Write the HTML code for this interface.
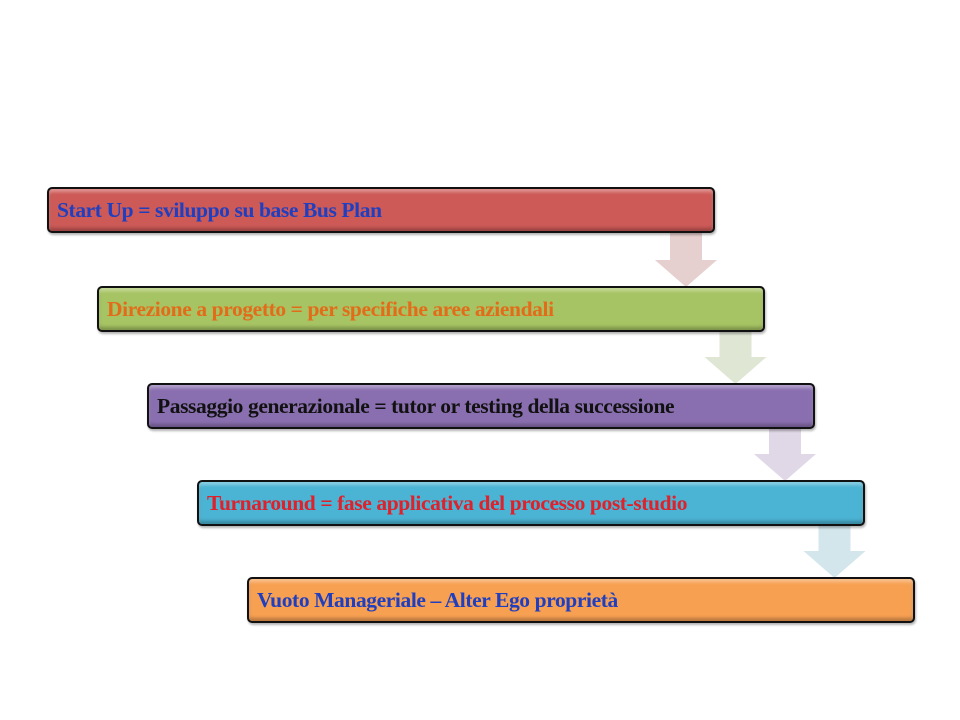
<!DOCTYPE html>
<html><head><meta charset="utf-8"><style>
body{margin:0;width:960px;height:720px;background:#fff;position:relative;overflow:hidden;font-family:"Liberation Serif",serif;}
.b{position:absolute;width:656px;height:42px;border:2px solid #111;border-radius:5px;box-sizing:content-box;box-shadow:inset 0 3px 3px rgba(255,255,255,.35),inset 0 -3px 3px rgba(0,0,0,.25),1px 2px 2px rgba(0,0,0,.3);font-weight:bold;font-size:21.5px;line-height:42px;padding-left:8px;letter-spacing:-0.4px;white-space:nowrap;overflow:hidden}
svg{position:absolute;left:0;top:0}
</style></head><body>
<svg width="960" height="720">
<polygon points="670,233 702,233 702,260 717,260 686,287 655,260 670,260" fill="#e6cfcf"/>
<polygon points="719.5,330 751.5,330 751.5,357 766.5,357 735.5,384 704.5,357 719.5,357" fill="#dfe6d4"/>
<polygon points="769,427 801,427 801,454 816,454 785,481 754,454 769,454" fill="#e0d8e6"/>
<polygon points="818.5,524 850.5,524 850.5,551 865.5,551 834.5,578 803.5,551 818.5,551" fill="#d3e6ec"/>
</svg>
<div class="b" style="left:47px;top:187px;background:#cd5a57;color:#1f3fc0">Start Up = sviluppo su base Bus Plan</div>
<div class="b" style="left:97px;top:286px;background:#a6c463;color:#e36c1a">Direzione a progetto = per specifiche aree aziendali</div>
<div class="b" style="left:147px;top:383px;background:#8a6fb0;color:#111">Passaggio generazionale = tutor or testing della successione</div>
<div class="b" style="left:197px;top:480px;background:#4bb3d3;color:#e0202a">Turnaround = fase applicativa del processo post-studio</div>
<div class="b" style="left:247px;top:577px;background:#f7a052;color:#1f3fc0">Vuoto Manageriale – Alter Ego proprietà</div>
</body></html>
